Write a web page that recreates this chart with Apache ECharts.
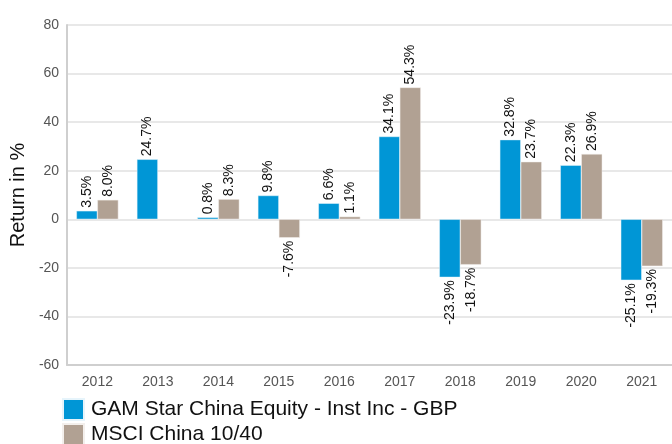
<!DOCTYPE html>
<html>
<head>
<meta charset="utf-8">
<script src="https://cdn.jsdelivr.net/npm/echarts@6/dist/echarts.min.js"></script>
<style>
  html, body { margin: 0; padding: 0; background: #fff; }
  #chart { width: 672px; height: 444px; }
</style>
</head>
<body>
<div id="chart"></div>
<script>
const years = ['2012', '2013', '2014', '2015', '2016', '2017', '2018', '2019', '2020', '2021']
const fundName = 'GAM Star China Equity - Inst Inc - GBP'
const indexName = 'MSCI China 10/40'
const fundValues = [3.5, 24.7, 0.8, 9.8, 6.6, 34.1, -23.9, 32.8, 22.3, -25.1]
const indexValues = [8.0, null, 8.3, -7.6, 1.1, 54.3, -18.7, 23.7, 26.9, -19.3]

// label goes above positive bars, below negative ones
const toItems = (arr) => arr.map((v) => {
  if (v === null) return '-'
  return {
    value: v,
    label: v < 0
      ? { position: 'bottom', align: 'right', distance: 3 }
      : { position: 'top', align: 'left', distance: 3 }
  }
})

const chart = echarts.init(document.getElementById('chart'))
const labelStyle = {
  show: true,
  rotate: 90,
  verticalAlign: 'middle',
  color: '#111',
  fontSize: 14,
  fontFamily: 'Liberation Sans, Arial, sans-serif',
  formatter: (p) => p.value.toFixed(1) + '%'
}
const legendBase = {
  orient: 'vertical',
  left: 62,
  icon: 'rect',
  itemWidth: 21,
  itemHeight: 21,
  padding: 0,
  textStyle: { fontSize: 21, color: '#111', padding: [0, 0, 0, 2] }
}

chart.setOption({
  animation: false,
  textStyle: { fontFamily: 'Liberation Sans, Arial, sans-serif' },
  grid: { left: 64, top: 25, width: 612, height: 340 },
  legend: [
    Object.assign({}, legendBase, { top: 398, data: [fundName] }),
    Object.assign({}, legendBase, { top: 423, data: [indexName] })
  ],
  xAxis: {
    type: 'category',
    data: years,
    axisLine: { onZero: false, lineStyle: { color: '#cfcfcf', width: 2 } },
    axisTick: { show: false },
    axisLabel: { color: '#555', fontSize: 14, margin: 10 }
  },
  yAxis: {
    type: 'value',
    min: -60,
    max: 80,
    interval: 20,
    name: 'Return in %',
    nameLocation: 'middle',
    nameGap: 38,
    nameTextStyle: { fontSize: 20, color: '#111' },
    axisLine: { show: true, lineStyle: { color: '#cfcfcf', width: 2 } },
    axisTick: { show: false },
    axisLabel: { color: '#555', fontSize: 14, margin: 8 },
    splitLine: { lineStyle: { color: '#e8e8e8', width: 2 } }
  },
  series: [
    {
      name: fundName,
      type: 'bar',
      data: toItems(fundValues),
      barWidth: 21,
      barGap: '0%',
      itemStyle: { color: '#0096d6', borderColor: '#e6f4fb', borderWidth: 0.5 },
      label: labelStyle
    },
    {
      name: indexName,
      type: 'bar',
      data: toItems(indexValues),
      barWidth: 21,
      itemStyle: { color: '#b1a193', borderColor: '#f3efec', borderWidth: 0.5 },
      label: labelStyle
    }
  ]
})
</script>
</body>
</html>
